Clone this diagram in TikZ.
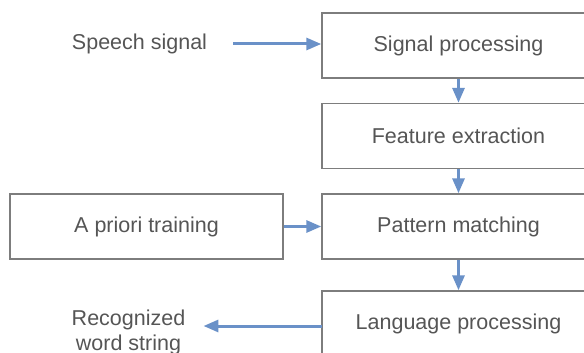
\documentclass[tikz,border=0pt]{standalone}
\usepackage{fontspec}
\setmainfont{Liberation Sans}
\usetikzlibrary{arrows.meta}
\definecolor{txtgray}{RGB}{85,85,85}
\definecolor{boxgray}{RGB}{125,125,125}
\definecolor{arrblue}{RGB}{106,145,200}
\tikzset{
  stagebox/.style={draw=boxgray, line width=1.4pt, minimum width=273pt, minimum height=65pt,
    inner sep=0pt, text=txtgray, font=\fontsize{21.5}{25}\selectfont},
  lbl/.style={text=txtgray, font=\fontsize{21.5}{25}\selectfont, inner ysep=0pt, align=center},
  flow/.style={draw=arrblue, line width=3pt, -{Triangle[length=15pt,width=12pt]}}
}
\begin{document}
\begin{tikzpicture}[x=1pt,y=-1pt]
\useasboundingbox (0,0) rectangle (584,353);
\clip (0,0) rectangle (584,353);
\node[stagebox] (sp) at (458.5,45.5) {Signal processing};
\node[stagebox] (fe) at (458.5,136) {Feature extraction};
\node[stagebox] (pm) at (458.5,226.5) {Pattern matching};
\node[stagebox] (lp) at (458.5,323.5) {Language processing};
\node[stagebox] (apt) at (146.5,226.5) {A priori training};
\node[lbl, inner xsep=26pt] (speech) at (139.5,44) {Speech signal};
\node[lbl, inner xsep=18pt] (rec) at (128.5,332) {Recognized\\word string};
\coordinate (lpout) at (322,326);
\draw[flow] (speech.east) -- (speech.east -| sp.west);
\draw[flow] (sp.south) -- (fe.north);
\draw[flow] (fe.south) -- (pm.north);
\draw[flow] (apt.east) -- (pm.west);
\draw[flow] (pm.south) -- (lp.north);
\draw[flow] (lpout) -- (lpout -| rec.east);
\end{tikzpicture}
\end{document}
